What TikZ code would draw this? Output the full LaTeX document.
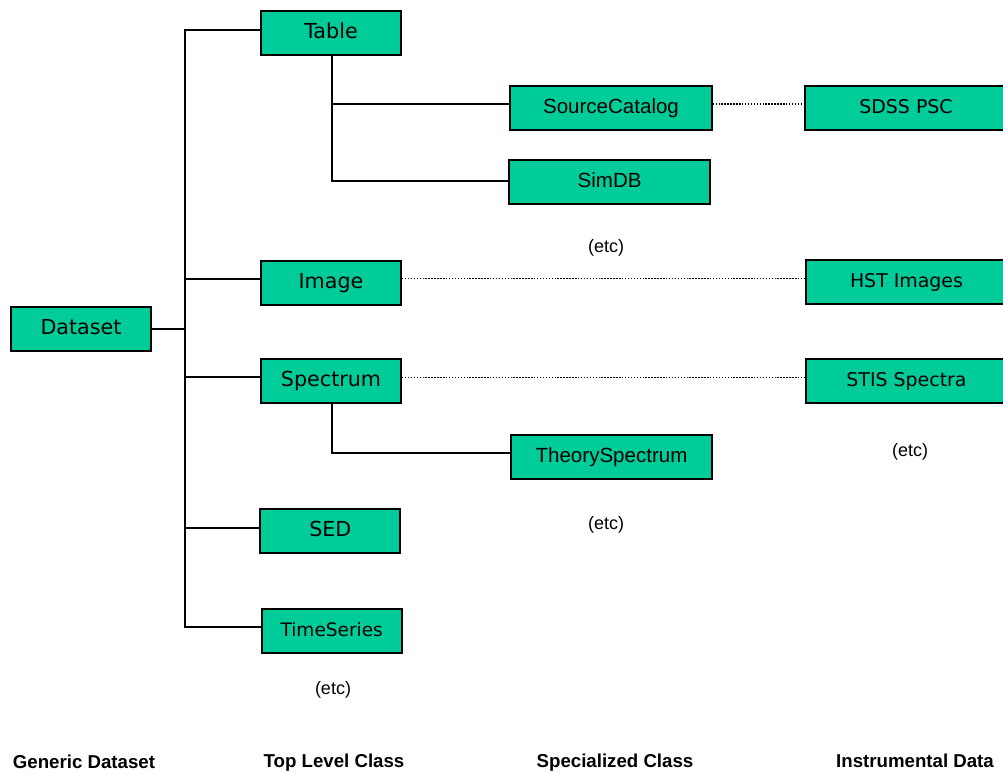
\documentclass[tikz,border=0pt]{standalone}
\usepackage{fontspec}
\setmainfont{DejaVu Sans}
\newfontfamily\arialf{Liberation Sans}
\definecolor{boxgreen}{RGB}{0,204,153}
\begin{document}
\begin{tikzpicture}[x=0.75pt,y=-0.75pt,
  box/.style={draw=black, line width=1.5pt, fill=boxgreen, minimum height=33pt,
    minimum width=105pt, inner sep=0pt, text height=12pt, text depth=3.5pt,
    font=\fontsize{15.5}{18}\selectfont},
  abox/.style={box, minimum width=151pt, font=\arialf\fontsize{15.4}{18}\selectfont},
  rbox/.style={box, minimum width=151pt, font=\fontsize{14.2}{17}\selectfont},
  conn/.style={line width=1.5pt, line cap=rect},
  dotline/.style={line width=1.2pt, dash pattern=on 1.1pt off 1.1pt},
  etc/.style={font=\arialf\fontsize{13.5}{16}\selectfont, inner sep=0pt},
  caption/.style={font=\arialf\bfseries\fontsize{14}{16}\selectfont, inner sep=0pt}]
\clip (0,0) rectangle (1003,772);
\fill[white] (0,0) rectangle (1003,772);

% nodes
\node[box] (dataset) at (81,329) {Dataset};
\node[box] (table) at (331,33) {Table};
\node[box] (image) at (331,282.5) {Image};
\node[box] (spectrum) at (331,380.5) {Spectrum};
\node[box] (sed) at (330.3,531) {SED};
\node[box, font=\fontsize{13.9}{16}\selectfont] (ts) at (331.7,630.5) {TimeSeries};
\node[abox] (srccat) at (611,107.7) {SourceCatalog};
\node[abox] (simdb) at (609.6,181.8) {SimDB};
\node[abox] (theory) at (611.5,456.7) {TheorySpectrum};
\node[rbox] (sdss) at (906,108) {SDSS PSC};
\node[rbox] (hst) at (906.5,282) {HST Images};
\node[rbox] (stis) at (906.5,380.5) {STIS Spectra};

% trunk coordinates
\coordinate (tTop) at (184.5,30.3);
\coordinate (tBot) at (184.5,627);
\coordinate (bImg) at (184.5,278.5);
\coordinate (bSpec) at (184.5,377.3);
\coordinate (bSed) at (184.5,528);
\coordinate (sA) at (332,104);
\coordinate (sB) at (332,181.3);
\coordinate (sC) at (332,452.7);

% connectors
\draw[conn] (tTop -| table.west) -- (tTop) -- (tBot) -- (tBot -| ts.west);
\draw[conn] (dataset.east) -- (dataset.east -| tTop);
\draw[conn] (bImg) -- (bImg -| image.west);
\draw[conn] (bSpec) -- (bSpec -| spectrum.west);
\draw[conn] (bSed) -- (bSed -| sed.west);
\draw[conn] (table.south -| sA) -- (sB) -- (sB -| simdb.west);
\draw[conn] (sA) -- (sA -| srccat.west);
\draw[conn] (spectrum.south -| sC) -- (sC) -- (sC -| theory.west);

\draw[dotline] (sA -| srccat.east) -- (sA -| sdss.west);
\draw[dotline] (bImg -| image.east) -- (bImg -| hst.west);
\draw[dotline] (bSpec -| spectrum.east) -- (bSpec -| stis.west);

% (etc) labels
\node[etc] (etc1) at (606,248) {(etc)};
\node[etc] (etc2) at (910,451.7) {(etc)};
\node[etc] (etc3) at (606,525) {(etc)};
\node[etc] (etc4) at (333,690) {(etc)};

% captions
\node[caption] (c1) at (84,762) {Generic Dataset};
\node[caption] (c2) at (334,763) {Top Level Class};
\node[caption] (c3) at (615,763) {Specialized Class};
\node[caption] (c4) at (915,761) {Instrumental Data};
\end{tikzpicture}
\end{document}
